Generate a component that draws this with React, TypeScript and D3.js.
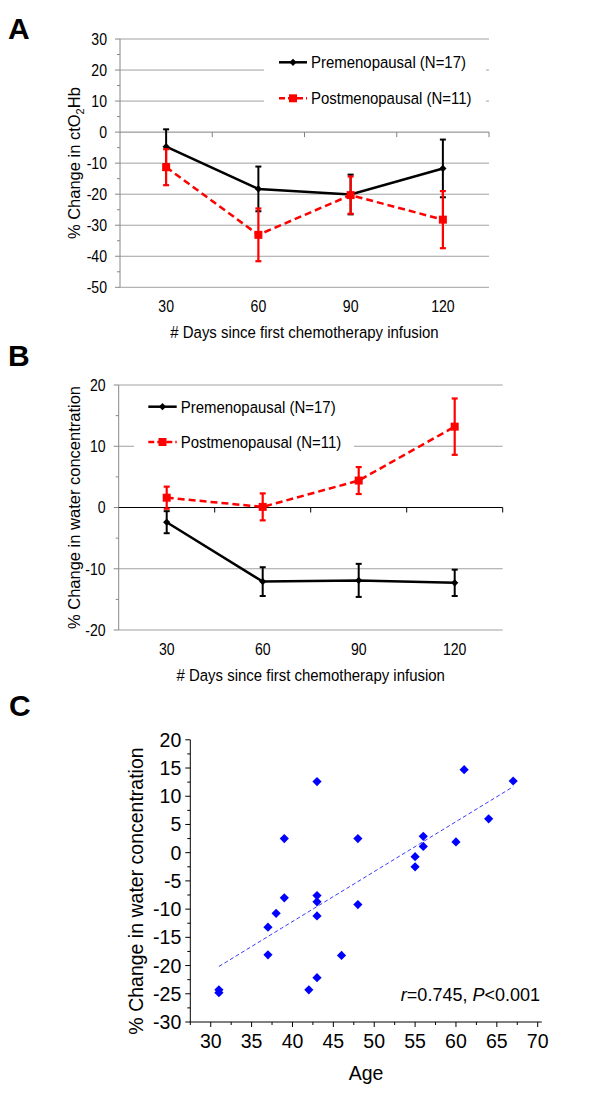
import React from "react";
import * as d3 from "d3";

// ---------- data ----------
const days = ["30", "60", "90", "120"];
const seriesNames = ["Premenopausal (N=17)", "Postmenopausal (N=11)"];

// Panel A: % change in ctO2Hb
const preA = [-4.7, -18.3, -20.1, -11.7];
const preAErr = [5.6, 7.2, 6.4, 9.3];
const postA = [-11.3, -33.1, -20.3, -28.2];
const postAErr = [5.8, 8.5, 6.0, 9.2];
const ticksA = [30, 20, 10, 0, -10, -20, -30, -40, -50];

// Panel B: % change in water concentration
const preB = [-2.4, -12.1, -11.9, -12.3];
const preBErr = [1.8, 2.35, 2.7, 2.15];
const postB = [1.6, 0.1, 4.4, 13.2];
const postBErr = [1.8, 2.2, 2.2, 4.6];
const ticksB = [20, 10, 0, -10, -20];

// Panel C: scatter of age vs % change in water concentration
const ages = [31, 31, 37, 37, 38, 39, 39, 42, 43, 43, 43, 43, 43, 46, 48, 48, 55, 55, 56, 56, 60, 61, 64, 67];
const waterChange = [-24.3, -24.8, -13.2, -18.1, -10.75, -8.0, 2.5, -24.3, -22.15, -11.2, -8.7, -7.6, 12.6, -18.2, -9.2, 2.5, -2.5, -0.7, 1.1, 2.9, 1.9, 14.7, 6.0, 12.7];
const ageTicks = [30, 35, 40, 45, 50, 55, 60, 65, 70];
const waterTicks = [20, 15, 10, 5, 0, -5, -10, -15, -20, -25, -30];

const FONT = "'Liberation Sans', Arial, Helvetica, sans-serif";
const RED = "#ff0000";
const GRID = "#a0a0a0";
const SX = 0.88;

const diamond = (r: number) => `M0,${-r}L${r},0L0,${r}L${-r},0Z`;
const squarePath = d3.symbol(d3.symbolSquare, 64)() as string;

function T(props: {
  x: number;
  y: number;
  size: number;
  anchor?: "start" | "middle" | "end";
  dy?: string;
  children: React.ReactNode;
}) {
  return (
    <text
      transform={`translate(${props.x},${props.y}) scale(${SX},1)`}
      fontSize={props.size}
      textAnchor={props.anchor || "start"}
      dy={props.dy}
      fill="#000"
    >
      {props.children}
    </text>
  );
}

type PanelProps = {
  left: number;
  right: number;
  top: number;
  bottom: number;
  yDomain: [number, number];
  yTicks: number[];
  minorTicks: number[];
  pre: number[];
  preErr: number[];
  post: number[];
  postErr: number[];
  zeroColor: string;
  legendBox: [number, number, number, number];
  legendRows: [number, number];
  legendSample: [number, number];
  yTitle: React.ReactNode;
};

function SeriesPanel(p: PanelProps) {
  const x = d3.scaleBand<string>().domain(days).range([p.left, p.right]).padding(0);
  const y = d3.scaleLinear().domain(p.yDomain).range([p.bottom, p.top]);
  const cx = (i: number) => (x(days[i]) as number) + x.bandwidth() / 2;
  const line = d3.line<number>().x((_, i) => cx(i)).y((v) => y(v));
  const y0 = y(0);
  const [lx0, ly0, lx1, ly1] = p.legendBox;
  const [sx0, sx1] = p.legendSample;
  const smid = (sx0 + sx1) / 2;

  const errBars = (vals: number[], errs: number[], color: string, w: number) =>
    vals.map((v, i) => {
      const xc = cx(i);
      const hi = y(v + errs[i]);
      const lo = y(v - errs[i]);
      return (
        <g key={i} stroke={color} strokeWidth={w}>
          <line x1={xc} x2={xc} y1={hi} y2={lo} />
          <line x1={xc - 3} x2={xc + 3} y1={hi} y2={hi} />
          <line x1={xc - 3} x2={xc + 3} y1={lo} y2={lo} />
        </g>
      );
    });

  return (
    <g fontFamily={FONT}>
      {/* gridlines */}
      {p.yTicks.filter((t) => t !== 0).map((t) => (
        <line key={t} x1={p.left} x2={p.right} y1={y(t)} y2={y(t)} stroke={GRID} strokeWidth={1} />
      ))}
      {/* y axis */}
      <line x1={p.left} x2={p.left} y1={p.top} y2={p.bottom} stroke="#888" strokeWidth={1} />
      {p.yTicks.map((t) => (
        <line key={t} x1={p.left - 5} x2={p.left} y1={y(t)} y2={y(t)} stroke="#888" />
      ))}
      {p.minorTicks.map((t) => (
        <line key={t} x1={p.left - 3} x2={p.left} y1={y(t)} y2={y(t)} stroke="#888" />
      ))}
      {/* legend background */}
      <rect x={lx0} y={ly0} width={lx1 - lx0} height={ly1 - ly0} fill="#fff" />
      {/* zero axis */}
      <line x1={p.left} x2={p.right} y1={y0} y2={y0} stroke={p.zeroColor} strokeWidth={1} />
      {days.map((d) => {
        const bx = (x(d) as number) + x.bandwidth();
        return <line key={d} x1={bx} x2={bx} y1={y0} y2={y0 + 5} stroke={p.zeroColor} />;
      })}
      {/* premenopausal */}
      <path d={line(p.pre) as string} fill="none" stroke="#000" strokeWidth={2.5} />
      {errBars(p.pre, p.preErr, "#000", 2)}
      {p.pre.map((v, i) => (
        <path key={i} d={diamond(3.6)} transform={`translate(${cx(i)},${y(v)})`} fill="#000" />
      ))}
      {/* postmenopausal */}
      <path d={line(p.post) as string} fill="none" stroke={RED} strokeWidth={2.5} strokeDasharray="7,4" />
      {errBars(p.post, p.postErr, RED, 2.2)}
      {p.post.map((v, i) => (
        <path key={i} d={squarePath} transform={`translate(${cx(i)},${y(v)})`} fill={RED} />
      ))}
      {/* legend */}
      <line x1={sx0} x2={sx1} y1={p.legendRows[0]} y2={p.legendRows[0]} stroke="#000" strokeWidth={2.5} />
      <path d={diamond(3.6)} transform={`translate(${smid},${p.legendRows[0]})`} fill="#000" />
      <line x1={sx0} x2={sx1} y1={p.legendRows[1]} y2={p.legendRows[1]} stroke={RED} strokeWidth={2.5} strokeDasharray="6,3" />
      <path d={squarePath} transform={`translate(${smid},${p.legendRows[1]})`} fill={RED} />
      {seriesNames.map((s, i) => (
        <T key={s} x={sx1 + 4} y={p.legendRows[i]} dy="0.36em" size={17}>
          {s}
        </T>
      ))}
      {/* tick labels */}
      {p.yTicks.map((t) => (
        <T key={t} x={p.left - 13} y={y(t)} dy="0.36em" size={16} anchor="end">
          {t}
        </T>
      ))}
      {days.map((d, i) => (
        <T key={d} x={cx(i)} y={p.bottom + 25} size={16} anchor="middle">
          {d}
        </T>
      ))}
      <T x={(p.left + p.right) / 2} y={p.bottom + 50.5} size={17} anchor="middle">
        # Days since first chemotherapy infusion
      </T>
      <text
        transform={`translate(74,${(p.top + p.bottom) / 2}) rotate(-90)`}
        dy="0.36em"
        fontSize={16.5}
        textAnchor="middle"
        fill="#000"
      >
        {p.yTitle}
      </text>
    </g>
  );
}

function ScatterPanel() {
  const x = d3.scaleLinear().domain([27.5, 70.5]).range([190.3, 541.8]);
  const y = d3.scaleLinear().domain([-30, 20]).range([1022, 739.8]);
  const mx = d3.mean(ages) as number;
  const my = d3.mean(waterChange) as number;
  const sxy = d3.sum(ages, (a, i) => (a - mx) * (waterChange[i] - my));
  const sxx = d3.sum(ages, (a) => (a - mx) * (a - mx));
  const slope = sxy / sxx;
  const icpt = my - slope * mx;
  const [amin, amax] = d3.extent(ages) as [number, number];
  const minorY = d3.range(-27.5, 20, 5);
  const minorX = d3.range(27.5, 70.5, 5);
  const left = x(27.5);
  const bottom = y(-30);
  return (
    <g fontFamily={FONT}>
      <line
        x1={x(amin)}
        y1={y(icpt + slope * amin)}
        x2={x(amax)}
        y2={y(icpt + slope * amax)}
        stroke="#3b3bff"
        strokeWidth={1}
        strokeDasharray="4,2.5"
      />
      {ages.map((a, i) => (
        <path key={i} d={diamond(4.6)} transform={`translate(${x(a)},${y(waterChange[i])})`} fill="#0000ff" />
      ))}
      {/* axes */}
      <line x1={left} x2={left} y1={y(20)} y2={bottom} stroke="#000" />
      <line x1={left} x2={x(70.5)} y1={bottom} y2={bottom} stroke="#000" />
      {waterTicks.map((t) => (
        <line key={t} x1={left - 5} x2={left} y1={y(t)} y2={y(t)} stroke="#000" />
      ))}
      {minorY.map((t) => (
        <line key={t} x1={left - 3} x2={left} y1={y(t)} y2={y(t)} stroke="#000" />
      ))}
      {ageTicks.map((t) => (
        <line key={t} x1={x(t)} x2={x(t)} y1={bottom} y2={bottom + 5} stroke="#000" />
      ))}
      {minorX.map((t) => (
        <line key={t} x1={x(t)} x2={x(t)} y1={bottom} y2={bottom + 3} stroke="#000" />
      ))}
      {waterTicks.map((t) => (
        <text key={t} x={left - 9} y={y(t)} dy="0.36em" fontSize={19.5} textAnchor="end" fill="#000">
          {t}
        </text>
      ))}
      {ageTicks.map((t) => (
        <text key={t} x={x(t)} y={bottom + 26} fontSize={19.5} textAnchor="middle" fill="#000">
          {t}
        </text>
      ))}
      <text x={(left + x(70.5)) / 2} y={1080} fontSize={19.5} textAnchor="middle" fill="#000">
        Age
      </text>
      <text transform={`translate(136,891) rotate(-90)`} dy="0.36em" fontSize={19.5} textAnchor="middle" fill="#000">
        % Change in water concentration
      </text>
      <text x={540} y={1001} fontSize={18} textAnchor="end" fill="#000">
        <tspan fontStyle="italic">r</tspan>=0.745, <tspan fontStyle="italic">P</tspan>&lt;0.001
      </text>
    </g>
  );
}

export default function App() {
  return (
    <svg
      width={600}
      height={1094}
      viewBox="0 0 600 1094"
      style={{ position: "absolute", left: 0, top: 0, background: "#fff" }}
    >
      <rect width={600} height={1094} fill="#fff" />
      <g fontFamily={FONT} fontWeight="bold" fontSize={30} fill="#000">
        <text x={8} y={39}>A</text>
        <text x={8} y={366}>B</text>
        <text x={9} y={716}>C</text>
      </g>
      <SeriesPanel
        left={120}
        right={489}
        top={39}
        bottom={287.3}
        yDomain={[-50, 30]}
        yTicks={ticksA}
        minorTicks={d3.range(-45, 30, 10)}
        pre={preA}
        preErr={preAErr}
        post={postA}
        postErr={postAErr}
        zeroColor="#808080"
        legendBox={[264, 45, 486, 124]}
        legendRows={[62.3, 98.3]}
        legendSample={[279, 307]}
        yTitle={
          <>
            % Change in ctO
            <tspan fontSize={11} dy={4}>2</tspan>
            <tspan dy={-4}>Hb</tspan>
          </>
        }
      />
      <SeriesPanel
        left={118.7}
        right={502.7}
        top={385}
        bottom={630}
        yDomain={[-20, 20]}
        yTicks={ticksB}
        minorTicks={d3.range(-15, 20, 10)}
        pre={preB}
        preErr={preBErr}
        post={postB}
        postErr={postBErr}
        zeroColor="#000"
        legendBox={[134, 390, 354, 462]}
        legendRows={[406.7, 442]}
        legendSample={[148.3, 176.7]}
        yTitle={<>% Change in water concentration</>}
      />
      <ScatterPanel />
    </svg>
  );
}
